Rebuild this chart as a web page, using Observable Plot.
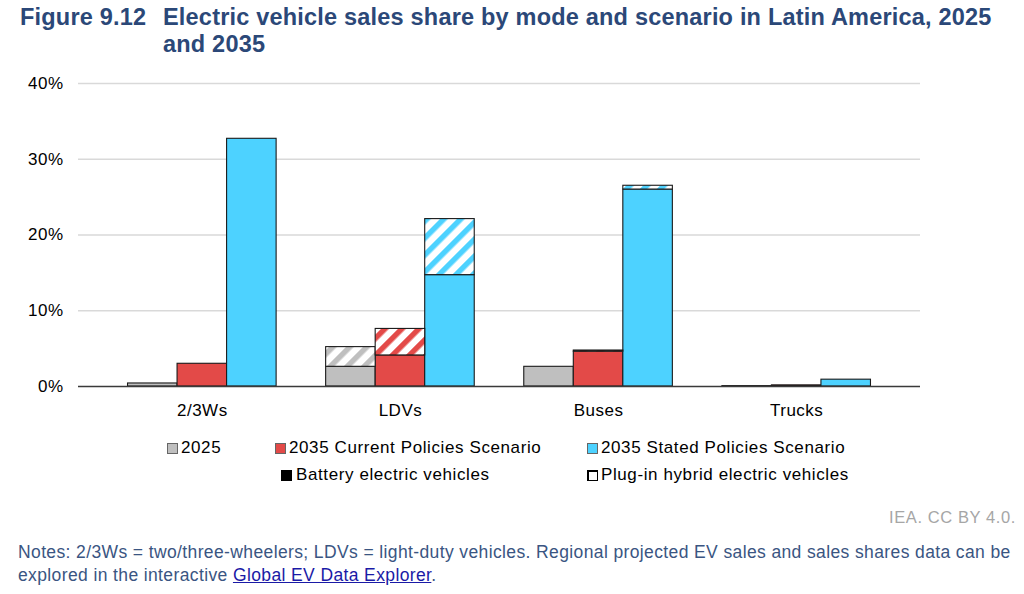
<!DOCTYPE html>
<html>
<head>
<meta charset="utf-8">
<script src="https://cdn.jsdelivr.net/npm/d3@7"></script>
<script src="https://cdn.jsdelivr.net/npm/@observablehq/plot@0.6"></script>
<style>
  html, body { margin: 0; padding: 0; background: #fff; width: 1024px; height: 594px; overflow: hidden; }
  body { position: relative; font-family: "Liberation Sans", Arial, sans-serif; }
  #title { position: absolute; left: 20px; top: 4px; display: flex; font-weight: bold; font-size: 23.5px; letter-spacing: 0.2px; line-height: 27px; color: #2b4878; }
  #title .num { width: 143px; flex: none; }
  #title .txt { width: 850px; }
  #chart { position: absolute; left: 0; top: 65px; }
  .leg { position: absolute; font-size: 17px; letter-spacing: 0.6px; color: #000; display: flex; align-items: center; white-space: nowrap; }
  .sw { width: 9px; height: 9px; border: 1px solid #555; margin-right: 3px; flex: none; }
  #credit { position: absolute; right: 8px; top: 508px; font-size: 16.5px; letter-spacing: 0.6px; color: #a6a6a6; }
  #notes { position: absolute; left: 18px; top: 541px; width: 1004px; font-size: 17.5px; letter-spacing: 0.38px; line-height: 23px; color: #3a5582; }
  #notes a { color: #1a1aa6; text-decoration: underline; }
</style>
</head>
<body>
<div id="title"><span class="num">Figure 9.12</span><span class="txt">Electric vehicle sales share by mode and scenario in Latin America, 2025 and 2035</span></div>
<div id="chart"></div>
<div id="legend"></div>
<div id="credit">IEA. CC BY 4.0.</div>
<div id="notes">Notes: 2/3Ws = two/three-wheelers; LDVs = light-duty vehicles. Regional projected EV sales and sales shares data can be explored in the interactive <a href="#">Global EV Data Explorer</a>.</div>
<script>
// ---- Data (sales share, %) ----
const categories = ["2/3Ws", "LDVs", "Buses", "Trucks"];
const scenarios = ["2025", "2035 Current Policies Scenario", "2035 Stated Policies Scenario"];
const scenarioColors = ["#bfbfbf", "#e34a48", "#4dd2ff"];
// Battery electric vehicles
const bev2025  = [0.4, 2.6, 2.6, 0.05];
const bevCPS   = [3.0, 4.1, 4.6, 0.15];
const bevSTEPS = [32.7, 14.7, 26.0, 0.9];
// Plug-in hybrid electric vehicles
const phev2025  = [0, 2.6, 0, 0];
const phevCPS   = [0, 3.5, 0.15, 0];
const phevSTEPS = [0, 7.4, 0.5, 0];
const yTicks = [0, 10, 20, 30, 40];

const bevBy = [bev2025, bevCPS, bevSTEPS];
const phevBy = [phev2025, phevCPS, phevSTEPS];

// Slot layout: each category gets 3 bar slots + 1 gap slot
const rows = [];
categories.forEach((cat, i) => {
  scenarios.forEach((scen, j) => {
    const slot = i * 4 + j + 0.5;
    const bev = bevBy[j][i], phev = phevBy[j][i];
    rows.push({cat, scen, j, type: "BEV", x1: slot, x2: slot + 1, y1: 0, y2: bev});
    if (phev > 0) rows.push({cat, scen, j, type: "PHEV", x1: slot, x2: slot + 1, y1: bev, y2: bev + phev});
  });
});
const bevRows = rows.filter(d => d.type === "BEV");
const phevRows = rows.filter(d => d.type === "PHEV");
const catCenters = categories.map((c, i) => i * 4 + 2);

const plot = Plot.plot({
  width: 1024,
  height: 365,
  marginLeft: 78,
  marginRight: 104,
  marginTop: 18,
  marginBottom: 44,
  style: {fontSize: "17px", letterSpacing: "0.5px", fontFamily: "'Liberation Sans', Arial, sans-serif", color: "#000", background: "transparent"},
  x: {domain: [-0.5, 16.5], ticks: catCenters, tickFormat: v => categories[Math.round((v - 2) / 4)], tickSize: 0, tickPadding: 17, label: null},
  y: {domain: [0, 40], ticks: yTicks, tickFormat: d => d + "%", tickSize: 0, tickPadding: 15, label: null},
  color: {domain: scenarios, range: scenarioColors},
  marks: [
    Plot.ruleY(yTicks.filter(d => d > 0), {stroke: "#d9d9d9", strokeWidth: 1.3}),
    Plot.rectY(bevRows, {x1: "x1", x2: "x2", y1: "y1", y2: "y2", fill: "scen", stroke: "#1a1a1a", strokeWidth: 1.1}),
    ...scenarios.map((s, j) => Plot.rectY(phevRows.filter(d => d.j === j), {x1: "x1", x2: "x2", y1: "y1", y2: "y2", fill: `url(#stripe-${j})`, stroke: "#1a1a1a", strokeWidth: 1.1})),
    Plot.ruleY([0], {stroke: "#3a3a3a", strokeWidth: 1.5})
  ]
});

// stripe patterns for PHEV segments
const ns = "http://www.w3.org/2000/svg";
const defs = document.createElementNS(ns, "defs");
scenarioColors.forEach((c, j) => {
  const p = document.createElementNS(ns, "pattern");
  p.setAttribute("id", `stripe-${j}`);
  p.setAttribute("patternUnits", "userSpaceOnUse");
  p.setAttribute("width", "12");
  p.setAttribute("height", "12");
  p.setAttribute("patternTransform", "rotate(45)");
  const bg = document.createElementNS(ns, "rect");
  bg.setAttribute("width", "12"); bg.setAttribute("height", "12"); bg.setAttribute("fill", "white");
  const st = document.createElementNS(ns, "rect");
  st.setAttribute("width", "5.5"); st.setAttribute("height", "12"); st.setAttribute("fill", c);
  p.appendChild(bg); p.appendChild(st);
  defs.appendChild(p);
});
plot.insertBefore(defs, plot.firstChild);
document.getElementById("chart").appendChild(plot);

// legend
const legendItems = [
  {label: scenarios[0], left: 167, top: 448, swatch: `background:${scenarioColors[0]};border-color:#666`},
  {label: scenarios[1], left: 275, top: 448, swatch: `background:${scenarioColors[1]};border-color:#666`},
  {label: scenarios[2], left: 587, top: 448, swatch: `background:${scenarioColors[2]};border-color:#666`},
  {label: "Battery electric vehicles", left: 281, top: 475, swatch: `background:#000;border-color:#000`, gap: 4},
  {label: "Plug-in hybrid electric vehicles", left: 587, top: 475, swatch: `background:#fff;border-color:#000;border-left-width:2px;border-top-width:2px;width:8px;height:8px`, gap: 3}
];
const lg = document.getElementById("legend");
legendItems.forEach(it => {
  const d = document.createElement("div");
  d.className = "leg";
  d.style.left = it.left + "px";
  d.style.top = (it.top - 10) + "px";
  d.style.height = "20px";
  d.innerHTML = `<span class="sw" style="${it.swatch};margin-right:${it.gap || 3}px"></span><span>${it.label}</span>`;
  lg.appendChild(d);
});
</script>
</body>
</html>
